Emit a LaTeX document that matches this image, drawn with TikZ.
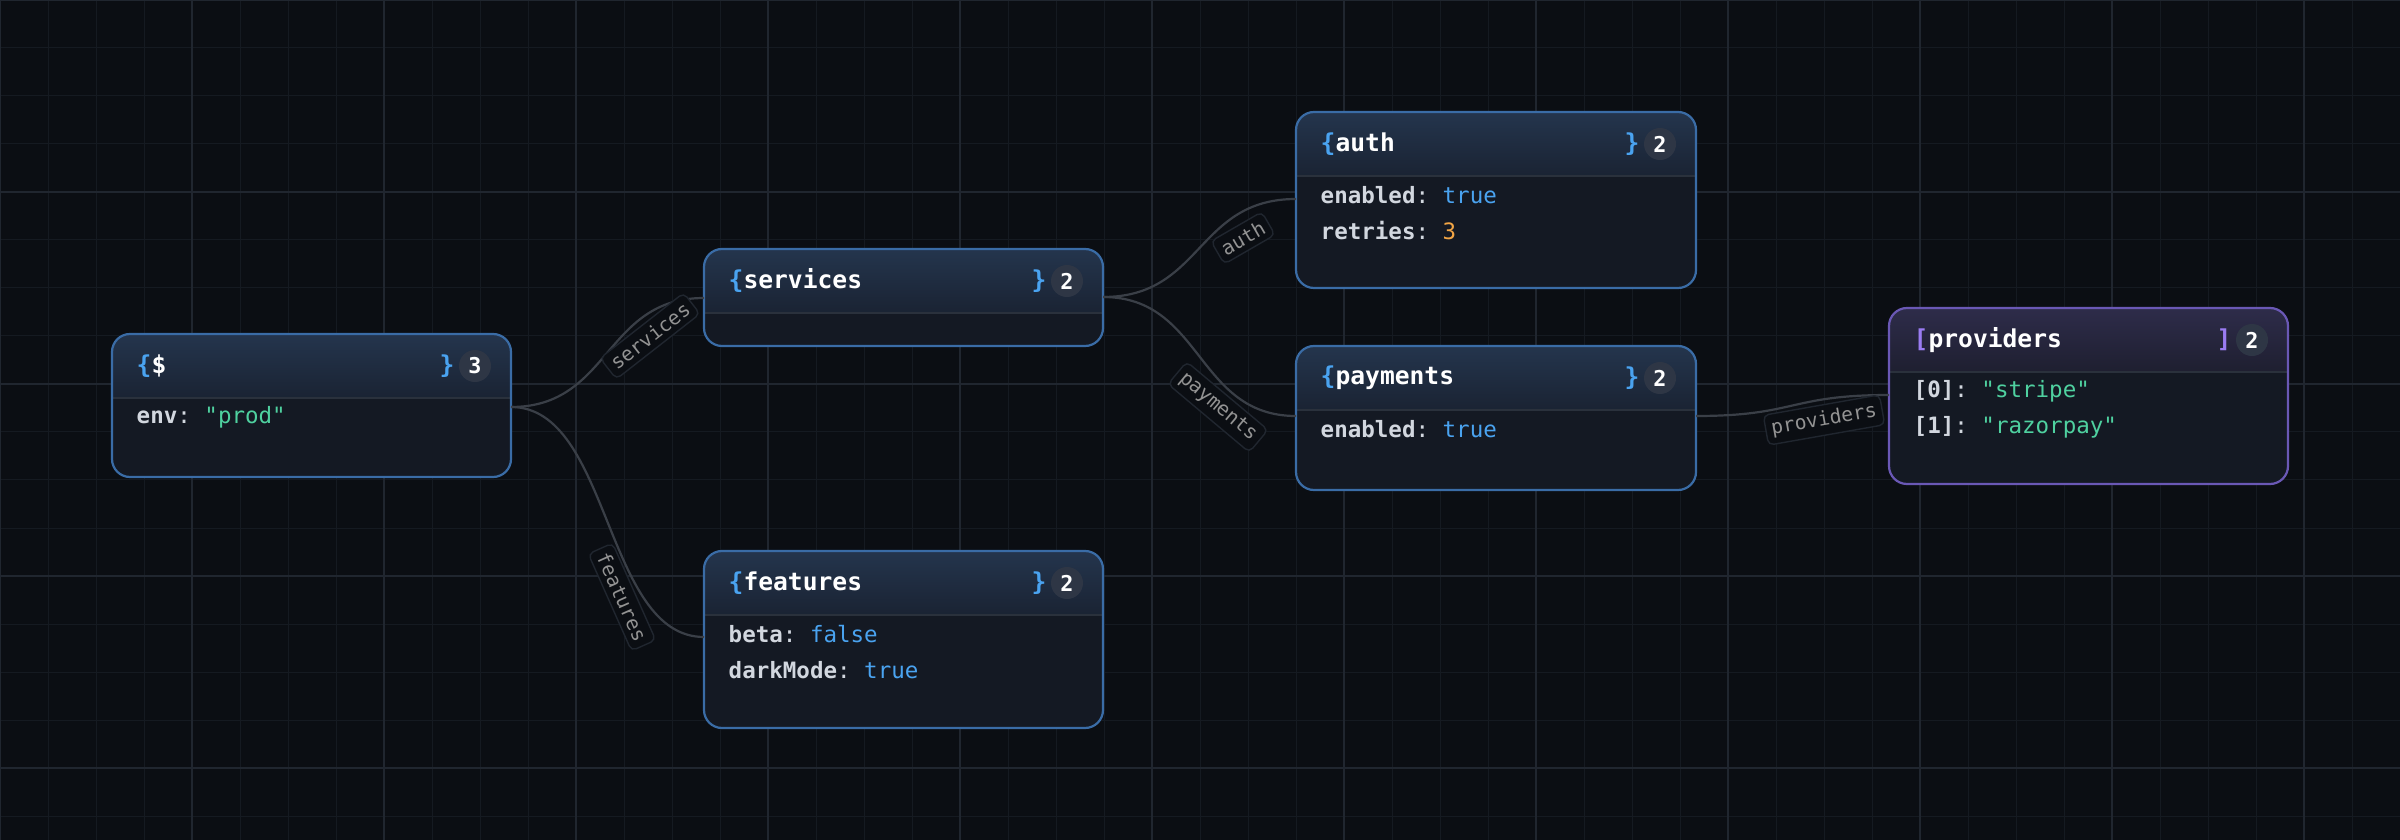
\documentclass[tikz,border=0pt]{standalone}
\usepackage{fontspec}
\setmonofont{DejaVu Sans Mono}
\usetikzlibrary{fit,calc}
\definecolor{bg}{HTML}{0B0E13}
\definecolor{gminor}{HTML}{151A21}
\definecolor{gmajor}{HTML}{20262F}
\definecolor{body}{HTML}{141923}
\definecolor{htop}{HTML}{24354D}
\definecolor{hbot}{HTML}{1A2333}
\definecolor{ptop}{HTML}{2E2C4A}
\definecolor{pbot}{HTML}{1E1F30}
\definecolor{bblue}{HTML}{3A6CA6}
\definecolor{bpurp}{HTML}{6A58B5}
\definecolor{brace}{HTML}{4AA3F0}
\definecolor{pbrace}{HTML}{9A7CF2}
\definecolor{badge}{HTML}{2E3645}
\definecolor{keyc}{HTML}{D2D7DF}
\definecolor{strc}{HTML}{4FD1A0}
\definecolor{boolc}{HTML}{4AA3F0}
\definecolor{numc}{HTML}{F2A545}
\definecolor{edgec}{HTML}{3A3F47}
\definecolor{divc}{HTML}{2A313C}
\tikzset{
  edge/.style={draw=edgec, line width=0.022cm},
  elabel/.style={fill=bg, draw=gmajor, rounded corners=1.5pt, text=gray!85, font=\ttfamily\fontsize{5.6}{6.5}\selectfont, inner sep=1.6pt},
  title/.style={anchor=west, text=white, font=\ttfamily\fontsize{7}{8}\selectfont\bfseries, inner sep=0},
  row/.style={anchor=west, text=keyc, font=\ttfamily\fontsize{6.4}{8}\selectfont, inner sep=0},
  bcount/.style={circle, fill=badge, text=white, minimum size=0.32cm, inner sep=0, font=\ttfamily\fontsize{6.2}{7}\selectfont\bfseries},
}
\newcommand\jbox[9]{%
  \coordinate (#1-nw) at (#2,#3);
  \coordinate (#1-se) at ($(#1-nw)+(#4,#5)$);
  \fill[body, rounded corners=0.18cm] (#1-nw) rectangle (#1-se);
  \begin{scope}
    \clip[rounded corners=0.18cm] (#1-nw) rectangle (#1-se);
    \shade[top color=#7, bottom color=#8] (#1-nw) rectangle ++(#4,64);
    \draw[divc, line width=0.02cm] ($(#1-nw)+(0,64)$) -- ++(#4,0);
  \end{scope}
  \node[fit=(#1-nw)(#1-se), inner sep=0, draw=#6, line width=0.022cm, rounded corners=0.18cm] (#1) {};
  \node[bcount] (#1-n) at ($(#1-nw)+(#4-36,32)$) {#9};
}
\begin{document}
\begin{tikzpicture}[x=0.01cm,y=-0.01cm]
\fill[bg] (0,0) rectangle (2400,840);
\useasboundingbox (0,0) rectangle (2400,840);
\foreach \i in {0,48,...,2400} \draw[gminor, line width=0.01cm] (\i,0) -- (\i,840);
\foreach \i in {0,48,...,840} \draw[gminor, line width=0.01cm] (0,\i) -- (2400,\i);
\foreach \i in {0,192,...,2400} \draw[gmajor, line width=0.012cm] (\i,0) -- (\i,840);
\foreach \i in {0,192,...,840} \draw[gmajor, line width=0.012cm] (0,\i) -- (2400,\i);

% boxes
\jbox{root}{112}{334}{399}{143}{bblue}{htop}{hbot}{3}
\jbox{svc}{704}{249}{399}{97}{bblue}{htop}{hbot}{2}
\jbox{feat}{704}{551}{399}{177}{bblue}{htop}{hbot}{2}
\jbox{auth}{1296}{112}{400}{176}{bblue}{htop}{hbot}{2}
\jbox{pay}{1296}{346}{400}{144}{bblue}{htop}{hbot}{2}
\jbox{prov}{1889}{308}{399}{176}{bpurp}{ptop}{pbot}{2}

% titles
\node[title] (rootT) at ($(root-nw)+(24,32)$) {\textcolor{brace}{\{}\$};
\node[title,text=brace] (rootB) at ($(root-nw)+(327,32)$) {\}};
\node[title] (svcT) at ($(svc-nw)+(24,32)$) {\textcolor{brace}{\{}services};
\node[title,text=brace] (svcB) at ($(svc-nw)+(327,32)$) {\}};
\node[title] (featT) at ($(feat-nw)+(24,32)$) {\textcolor{brace}{\{}features};
\node[title,text=brace] (featB) at ($(feat-nw)+(327,32)$) {\}};
\node[title] (authT) at ($(auth-nw)+(24,32)$) {\textcolor{brace}{\{}auth};
\node[title,text=brace] (authB) at ($(auth-nw)+(328,32)$) {\}};
\node[title] (payT) at ($(pay-nw)+(24,32)$) {\textcolor{brace}{\{}payments};
\node[title,text=brace] (payB) at ($(pay-nw)+(328,32)$) {\}};
\node[title] (provT) at ($(prov-nw)+(24,32)$) {\textcolor{pbrace}{[}providers};
\node[title,text=pbrace] (provB) at ($(prov-nw)+(327,32)$) {]};

% rows
\node[row] (r1) at ($(root-nw)+(24,83)$) {\textbf{env}: \textcolor{strc}{"prod"}};
\node[row] (f1) at ($(feat-nw)+(24,83)$) {\textbf{beta}: \textcolor{boolc}{false}};
\node[row] (f2) at ($(feat-nw)+(24,119)$) {\textbf{darkMode}: \textcolor{boolc}{true}};
\node[row] (a1) at ($(auth-nw)+(24,83)$) {\textbf{enabled}: \textcolor{boolc}{true}};
\node[row] (a2) at ($(auth-nw)+(24,119)$) {\textbf{retries}: \textcolor{numc}{3}};
\node[row] (p1) at ($(pay-nw)+(24,83)$) {\textbf{enabled}: \textcolor{boolc}{true}};
\node[row] (v1) at ($(prov-nw)+(24,83)$) {\textbf{[0]}: \textcolor{strc}{"stripe"}};
\node[row] (v2) at ($(prov-nw)+(24,119)$) {\textbf{[1]}: \textcolor{strc}{"razorpay"}};

% ports
\coordinate (rootO) at (511,407);
\coordinate (svcI) at (704,298);
\coordinate (featI) at (704,637);
\coordinate (svcO) at (1103,297);
\coordinate (authI) at (1296,199);
\coordinate (payI) at (1296,416);
\coordinate (payO) at (1696,416);
\coordinate (provI) at (1889,395);

% edges
\draw[edge] (rootO) .. controls +(100,0) and +(-100,0) .. (svcI);
\draw[edge] (rootO) .. controls +(100,0) and +(-100,0) .. (featI);
\draw[edge] (svcO) .. controls +(100,0) and +(-100,0) .. (authI);
\draw[edge] (svcO) .. controls +(100,0) and +(-100,0) .. (payI);
\draw[edge] (payO) .. controls +(100,0) and +(-100,0) .. (provI);

% edge labels
\node[elabel, rotate=38] (l1) at (650,336) {services};
\node[elabel, rotate=-66] (l2) at (622,597) {features};
\node[elabel, rotate=30] (l3) at (1243,238) {auth};
\node[elabel, rotate=-40] (l4) at (1218,407) {payments};
\node[elabel, rotate=10] (l5) at (1824,420) {providers};
\end{tikzpicture}
\end{document}
